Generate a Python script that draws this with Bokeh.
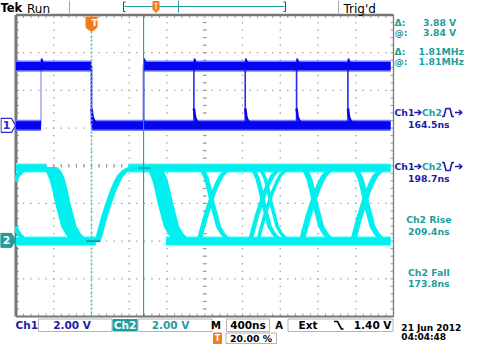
import numpy as np
from bokeh.plotting import figure
from bokeh.models import Range1d
from bokeh.core.properties import value
from bokeh.embed import file_html
from bokeh.resources import INLINE

# ---------------- chart values ----------------
time_per_div_ns = 400
volts_per_div = 2.0
trigger_position_pct = 20.0
record_end_ns = 3170

ch1_position_div = 1.07
ch2_position_div = -1.98

# Ch1 (blue) persistence trace
ch1_high_v = 3.15
ch1_low_v = 0.0
ch1_high_start_ns = [-800, 552]
ch1_high_end_ns = [0, 3170]
ch1_low_start_ns = [-800, 0]
ch1_low_end_ns = [-535, 3170]
ch1_edge_ns = [-535, 0, 552, 1085, 1629, 2173, 2717]
ch1_edge_alpha = [0.35, 1.0, 1.0, 0.85, 0.85, 0.85, 0.85]
ch1_tail_dt_ns = [0, 12, 30, 60, 100]
ch1_tail_v = [0.9, 0.45, 0.22, 0.1, 0.0]
ch1_tail_edge_ns = [0, 1085, 1629, 2173, 2717]
ch1_spike_dt_ns = [0, 6, 25]
ch1_spike_v = [3.15, 3.55, 3.3]
ch1_spike_edge_ns = [-535, 552, 1085, 1629, 2173, 2717]

# Ch2 (cyan) persistence / eye trace
ch2_high_v = 3.84
ch2_low_v = -0.04
ch2_high_start_ns = [-800, 390]
ch2_high_end_ns = [-480, 3170]
ch2_low_start_ns = [-800, 790]
ch2_low_end_ns = [45, 3170]
ch2_rise_dt_ns = [40, 60, 90, 125, 165, 205, 245, 285, 335, 395]
ch2_rise_frac = [0.0, 0.05, 0.2, 0.36, 0.52, 0.67, 0.79, 0.89, 0.96, 1.0]
ch2_fall_dt_ns = [55, 95, 130, 160, 190, 225, 255, 300, 350, 425]
ch2_fall_frac = [1.0, 0.95, 0.85, 0.7, 0.52, 0.35, 0.2, 0.1, 0.03, 0.0]
ch2_edge_ns = [-1075, -1075, -535, 0, 552, 1085, 1085, 1629, 1629, 1710, 1710, 2173, 2173, 2717, 2717]
ch2_edge_dir = ["rise", "fall", "fall", "rise", "fall", "rise", "fall", "rise", "fall",
                "rise", "fall", "rise", "fall", "rise", "fall"]
ch2_edge_early_ns = [-10, -10, -30, -5, -30, -10, -10, -10, -10, -5, -5, -15, -15, -15, -15]
ch2_edge_late_ns = [20, 20, 110, 40, 110, 20, 20, 15, 15, 10, 10, 25, 25, 25, 25]

# cursors
cursor_a_ns = 0
cursor_b_ns = 552
cursor_a_v = -0.04
cursor_b_v = 3.84

# readouts
top_labels = ["Tek", "Run", "Trig'd"]
cursor_keys = ["Δ:", "@:", "Δ:", "@:"]
cursor_vals = ["3.88 V", "3.84 V", "1.81MHz", "1.81MHz"]
meas_vals = ["164.5ns", "198.7ns", "209.4ns", "173.8ns"]
meas_titles = ["Ch2 Rise", "Ch2 Fall"]
ch_scales = ["2.00 V", "2.00 V"]
timebase = "400ns"
trig_source = "Ext"
trig_level = "1.40 V"
trig_pos_text = "20.00 %"
date_text = "21 Jun 2012"
time_text = "04:04:48"

# ---------------- layout (1 unit = 1 screen px) ----------------
W, H = 464, 344
GX0, GX1, GY0, GY1 = 15.5, 393.0, 14.5, 316.0
DIVX = (GX1 - GX0) / 10
DIVY = (GY1 - GY0) / 8
GYC = (GY0 + GY1) / 2


def rx(x):  # right-hand readout column, squeezed to fit the page
    return 394 + (x - 397) * (463.5 - 394) / (478 - 397)


BLUE = "#0505f0"
BLUE_L = "#7b7bff"
CYAN = "#00f0f0"
CYAN_L = "#9ffafa"
NAVY = "#1c1ca6"
TEAL = "#1f9d9d"
ORANGE = "#f07d1a"
GRAY = "#9a9a9a"
FONT = "DejaVu Sans"

p = figure(width=W, height=H, x_range=Range1d(0, W), y_range=Range1d(H, 0),
           output_backend="svg", toolbar_location=None, min_border=0,
           x_axis_location=None, y_axis_location=None,
           background_fill_color="white", border_fill_color="white",
           outline_line_color=None)
p.grid.visible = False

# extra ranges: time (ns) and per-channel volts
ns_per_px = time_per_div_ns / DIVX
t_grat_left = -trigger_position_pct / 100 * 10 * time_per_div_ns
t_left = t_grat_left - GX0 * ns_per_px
p.extra_x_ranges = {"t": Range1d(t_left, t_left + W * ns_per_px)}
v_per_px = volts_per_div / DIVY
ch1_gnd_y = GYC - ch1_position_div * DIVY
ch2_gnd_y = GYC - ch2_position_div * DIVY
p.extra_y_ranges = {
    "ch1": Range1d((ch1_gnd_y - H) * v_per_px, ch1_gnd_y * v_per_px),
    "ch2": Range1d((ch2_gnd_y - H) * v_per_px, ch2_gnd_y * v_per_px),
}


def txt(x, y, s, size, color, align="left", bold=True):
    p.text(x=[x], y=[y], text=[s], text_font=value(FONT),
           text_font_size=value(f"{size:.1f}px"),
           text_font_style="bold" if bold else "normal",
           text_color=color, text_align=align, text_baseline="middle")


def arrow(x0, x1, y, color):
    p.multi_line(xs=[[x0, x1], [x1 - 3, x1, x1 - 3]], ys=[[y, y], [y - 2.5, y, y + 2.5]],
                 line_color=color, line_width=1.5)


# ---------------- graticule ----------------
dx, dy = [], []
for i in range(1, 10):
    for j in range(1, 40):
        dx.append(GX0 + i * DIVX); dy.append(GY0 + j * DIVY / 5)
for j in range(1, 8):
    for i in range(1, 50):
        dx.append(GX0 + i * DIVX / 5); dy.append(GY0 + j * DIVY)
p.rect(x=dx, y=dy, width=1.3, height=1.3, fill_color=GRAY, line_color=None)

cx = GX0 + 5 * DIVX
tx0, tx1, ty0, ty1 = [], [], [], []
for j in range(1, 40):
    y = GY0 + j * DIVY / 5
    tx0.append(cx - 2); tx1.append(cx + 2); ty0.append(y); ty1.append(y)
for i in range(1, 50):
    x = GX0 + i * DIVX / 5
    tx0.append(x); tx1.append(x); ty0.append(GYC - 2); ty1.append(GYC + 2)
for i in range(1, 50):
    x = GX0 + i * DIVX / 5
    tx0 += [x, x]; tx1 += [x, x]; ty0 += [GY0, GY1]; ty1 += [GY0 + 3, GY1 - 3]
for j in range(1, 40):
    y = GY0 + j * DIVY / 5
    tx0 += [GX0, GX1]; tx1 += [GX0 + 3, GX1 - 3]; ty0 += [y, y]; ty1 += [y, y]
p.segment(x0=tx0, x1=tx1, y0=ty0, y1=ty1, line_color=GRAY, line_width=1)

p.segment(x0=[GX0, GX0, GX0, GX1], x1=[GX1, GX1, GX0, GX1],
          y0=[GY0, GY1, GY0, GY0], y1=[GY0, GY1, GY1, GY1],
          line_color="#777777", line_width=[2.5, 2.2, 3, 1.3])


# ---------------- Ch2 trace ----------------
def clip(ts, ys, t0=t_grat_left, t1=record_end_ns):
    ts = np.asarray(ts, float); ys = np.asarray(ys, float)
    m = (ts >= t0) & (ts <= t1)
    ot, oy = list(ts[m]), list(ys[m])
    if ts[0] < t0 < ts[-1]:
        ot.insert(0, t0); oy.insert(0, float(np.interp(t0, ts, ys)))
    if ts[0] < t1 < ts[-1]:
        ot.append(t1); oy.append(float(np.interp(t1, ts, ys)))
    return ot, oy


def bands(starts_hi, ends_hi, starts_lo, ends_lo, vhi, vlo, half, color, yname):
    p.quad(left=starts_hi + starts_lo, right=ends_hi + ends_lo,
           bottom=[vhi - half] * len(starts_hi) + [vlo - half] * len(starts_lo),
           top=[vhi + half] * len(starts_hi) + [vlo + half] * len(starts_lo),
           fill_color=color, line_color=None, x_range_name="t", y_range_name=yname)


bands(ch2_high_start_ns, ch2_high_end_ns, ch2_low_start_ns, ch2_low_end_ns,
      ch2_high_v, ch2_low_v, 0.27, CYAN_L, "ch2")
bands(ch2_high_start_ns, ch2_high_end_ns, ch2_low_start_ns, ch2_low_end_ns,
      ch2_high_v, ch2_low_v, 0.2, CYAN, "ch2")

pxs, pys = [], []
for e, d, ea, la in zip(ch2_edge_ns, ch2_edge_dir, ch2_edge_early_ns, ch2_edge_late_ns):
    dt, fr = (ch2_rise_dt_ns, ch2_rise_frac) if d == "rise" else (ch2_fall_dt_ns, ch2_fall_frac)
    v = [ch2_low_v + f * (ch2_high_v - ch2_low_v) for f in fr]
    at, av = clip([e + ea + t for t in dt], v)
    bt, bv = clip([e + la + t for t in dt], v)
    if len(at) < 2 or len(bt) < 2:
        continue
    pxs.append(at + bt[::-1]); pys.append(av + bv[::-1])
p.patches(xs=pxs, ys=pys, fill_color=CYAN, line_color=CYAN, line_width=2.2,
          x_range_name="t", y_range_name="ch2")

# ---------------- Ch1 trace ----------------
bands(ch1_high_start_ns, ch1_high_end_ns, ch1_low_start_ns, ch1_low_end_ns,
      ch1_high_v, ch1_low_v, 0.3, BLUE_L, "ch1")
bands(ch1_high_start_ns, ch1_high_end_ns, ch1_low_start_ns, ch1_low_end_ns,
      ch1_high_v, ch1_low_v, 0.22, BLUE, "ch1")
p.segment(x0=ch1_edge_ns, x1=ch1_edge_ns, y0=[ch1_low_v] * len(ch1_edge_ns),
          y1=[ch1_high_v] * len(ch1_edge_ns), line_color=BLUE, line_alpha=ch1_edge_alpha,
          line_width=1.6, x_range_name="t", y_range_name="ch1")
p.multi_line(xs=[[e + t for t in ch1_tail_dt_ns] for e in ch1_tail_edge_ns],
             ys=[ch1_tail_v] * len(ch1_tail_edge_ns), line_color=BLUE, line_width=2.5,
             x_range_name="t", y_range_name="ch1")
p.multi_line(xs=[[e + t for t in ch1_spike_dt_ns] for e in ch1_spike_edge_ns],
             ys=[ch1_spike_v] * len(ch1_spike_edge_ns), line_color=BLUE, line_width=1.5,
             x_range_name="t", y_range_name="ch1")

# ---------------- cursors ----------------
p.segment(x0=[cursor_a_ns], x1=[cursor_a_ns], y0=[31], y1=[GY1], line_color="#63bcbc",
          line_width=1.6, line_dash="2 2", x_range_name="t")
p.segment(x0=[cursor_b_ns], x1=[cursor_b_ns], y0=[GY0], y1=[GY1], line_color=TEAL,
          line_width=1.1, x_range_name="t")
p.segment(x0=[cursor_a_ns - 55, cursor_b_ns - 55], x1=[cursor_a_ns + 95, cursor_b_ns + 75],
          y0=[cursor_a_v, cursor_b_v], y1=[cursor_a_v, cursor_b_v], line_color="#157878",
          line_width=1.1, x_range_name="t", y_range_name="ch2")

# trigger marker
trig_x = GX0 + trigger_position_pct / 100 * 10 * DIVX
p.patch(x=[trig_x - 5.5, trig_x + 5.5, trig_x + 5.5, trig_x, trig_x - 5.5],
        y=[16.5, 16.5, 27, 31, 27], fill_color=ORANGE, line_color=ORANGE)
txt(trig_x, 22.5, "T", 9, "white")

# channel ground markers
p.patch(x=[0.5, 11, 15, 11, 0.5], y=[ch1_gnd_y - 7, ch1_gnd_y - 7, ch1_gnd_y, ch1_gnd_y + 7, ch1_gnd_y + 7],
        fill_color="white", line_color="#2a2ad0", line_width=1.2)
txt(6, ch1_gnd_y, "1", 11, "#2a2ad0", align="center")
p.patch(x=[0, 11, 15, 11, 0], y=[ch2_gnd_y - 7, ch2_gnd_y - 7, ch2_gnd_y, ch2_gnd_y + 7, ch2_gnd_y + 7],
        fill_color=TEAL, line_color=TEAL)
txt(6, ch2_gnd_y, "2", 11, "white", align="center")

# ---------------- top bar ----------------
txt(0, 7.5, top_labels[0], 11.5, "black")
txt(26.5, 8, top_labels[1], 12, "black", bold=False)
txt(343, 8, top_labels[2], 12, "black", bold=False)
p.segment(x0=[69, 338], x1=[69, 338], y0=[0, 0], y1=[13, 13], line_color="#a8a8a8", line_width=1)
p.multi_line(xs=[[125, 123, 123, 125], [283, 285, 285, 283]],
             ys=[[1.5, 1.5, 11, 11], [1.5, 1.5, 11, 11]], line_color="#444444", line_width=1)
p.segment(x0=[124, 178], x1=[284, 178], y0=[6, 0], y1=[6, 12], line_color=TEAL, line_width=1)
p.patch(x=[152.5, 158.5, 158.5, 155.5, 152.5], y=[1, 1, 9, 12, 9], fill_color=ORANGE, line_color=ORANGE)
p.segment(x0=[154, 155.5], x1=[157, 155.5], y0=[3, 3], y1=[3, 9], line_color="white", line_width=1)

# ---------------- right readouts ----------------
RF = 9.3
cur_y = [21.5, 31.5, 50.5, 61]
cur_r = [rx(469), rx(469), rx(478), rx(478)]
for k, v, y, r in zip(cursor_keys, cursor_vals, cur_y, cur_r):
    txt(rx(397), y, k, RF, TEAL)
    txt(r, y, v, RF, TEAL, align="right")

for y, glyph in ((112, "pos"), (166, "neg")):
    txt(rx(397), y, "Ch1", RF, NAVY)
    arrow(413.8, 420.5, y, NAVY)
    txt(421.5, y, "Ch2", RF, TEAL)
    top, bot = y - 4, y + 4
    gy = [bot, bot, top, top, bot, bot] if glyph == "pos" else [top, top, bot, bot, top, top]
    p.line(x=[441.5, 443.5, 445.5, 449.5, 451.5, 453.5], y=gy, line_color=NAVY, line_width=1.6)
    arrow(454.5, 461.5, y, NAVY)
CX = rx(437)
txt(CX, 124, meas_vals[0], RF, NAVY, align="center")
txt(CX, 178, meas_vals[1], RF, NAVY, align="center")
txt(CX, 219, meas_titles[0], RF, TEAL, align="center")
txt(CX, 231, meas_vals[2], RF, TEAL, align="center")
txt(CX, 271.5, meas_titles[1], RF, TEAL, align="center")
txt(CX, 283, meas_vals[3], RF, TEAL, align="center")

# ---------------- bottom bar ----------------
BY = 324.5
BF = 10.5
p.quad(left=[38, 137.5, 226, 287.5], right=[111.5, 211.5, 269, 392.5],
       top=[318.5] * 4, bottom=[331] * 4,
       fill_color="white", line_color="#b4b4b4", line_width=1)
p.quad(left=[112.5], right=[136.5], top=[319], bottom=[330.5], fill_color=TEAL, line_color=TEAL)
txt(15, BY, "Ch1", BF, NAVY)
txt(71.5, BY, ch_scales[0], BF, NAVY, align="center")
txt(124.5, BY, "Ch2", BF, "white", align="center")
txt(170, BY, ch_scales[1], BF, TEAL, align="center")
txt(215.5, BY, "M", 10, "black", align="center")
txt(247.5, BY, timebase, BF, "black", align="center")
txt(278.5, BY, "A", 10, "black", align="center")
txt(298, BY, trig_source, BF, "black")
p.line(x=[333.5, 337, 341, 343], y=[321, 321, 328.5, 328.5], line_color="black", line_width=1.6)
txt(391, BY, trig_level, BF, "black", align="right")

# second row (squeezed into the remaining page height)
R2 = 337.8
p.quad(left=[213], right=[221], top=[332.5], bottom=[343], fill_color=ORANGE, line_color=ORANGE)
txt(217, R2, "T", 8, "white", align="center")
p.quad(left=[225.5], right=[276], top=[332.5], bottom=[343],
       fill_color="white", line_color="#b4b4b4", line_width=1)
txt(250.5, R2, trig_pos_text, 9.3, "black", align="center")
txt(rx(405), 327.5, date_text, 9, "black")
txt(rx(405), 336.5, time_text, 9, "black")

open("out.html", "w").write(file_html(p, INLINE))
